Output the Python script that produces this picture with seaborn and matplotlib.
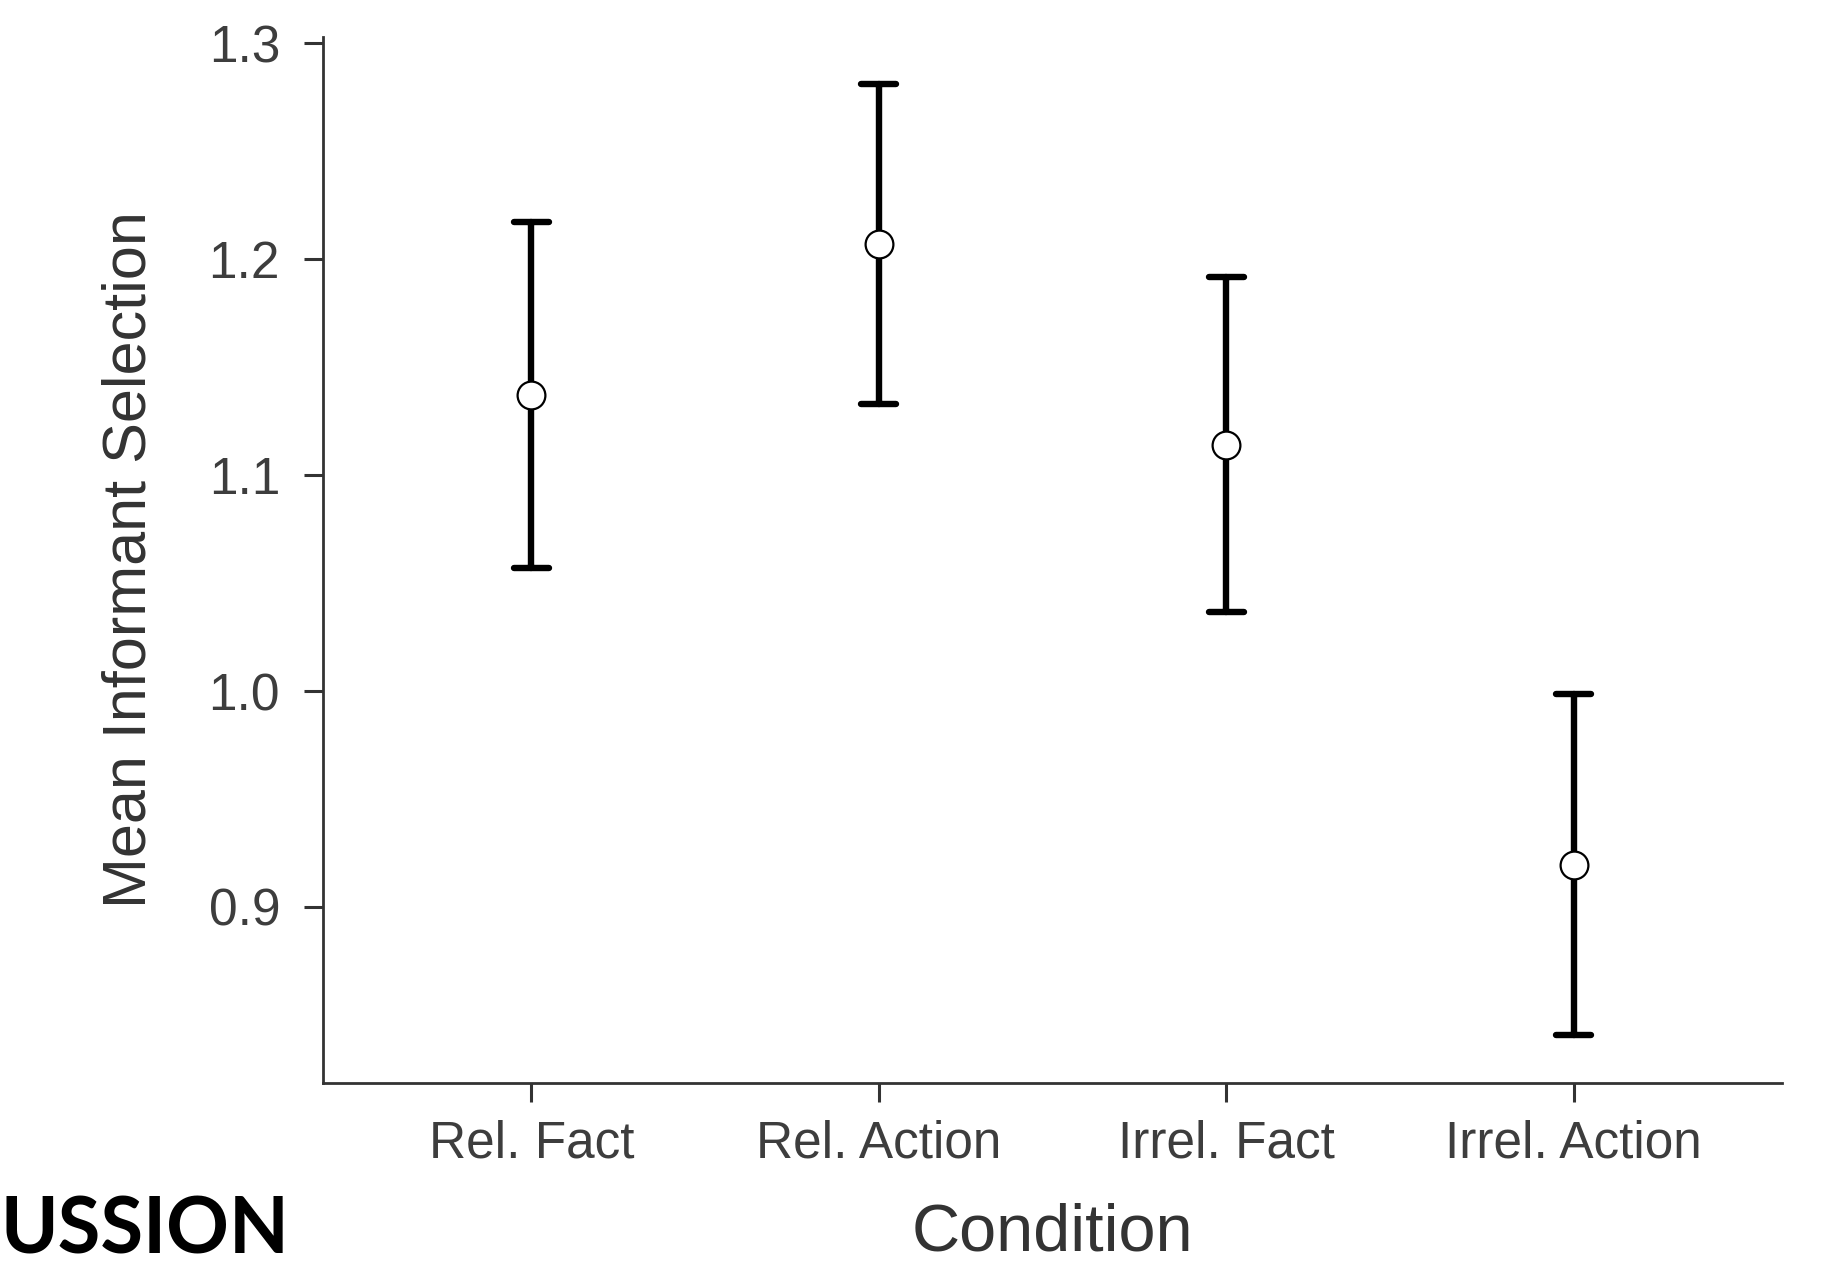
import matplotlib
matplotlib.use("Agg")
import matplotlib.pyplot as plt
import seaborn as sns
import pandas as pd

conditions = ["Rel. Fact", "Rel. Action", "Irrel. Fact", "Irrel. Action"]
means = [1.137, 1.207, 1.114, 0.9195]
ci_half = [0.080, 0.074, 0.0776, 0.0789]
yticks = [0.9, 1.0, 1.1, 1.2, 1.3]

# rows at mean - ci and mean + ci so the estimator gives the mean and the errorbar spans the CI
rows = []
for c, m, h in zip(conditions, means, ci_half):
    rows.append({"Condition": c, "value": m - h})
    rows.append({"Condition": c, "value": m + h})
df = pd.DataFrame(rows)

sns.set_style("ticks")
plt.rcParams["font.family"] = ["Liberation Sans", "DejaVu Sans"]

fig = plt.figure(figsize=(18.44, 12.68), dpi=100)
ax = fig.add_axes([0.1752, 0.1459, 0.7912, 0.8249])

sns.pointplot(
    data=df, x="Condition", y="value", order=conditions,
    estimator="mean", errorbar=lambda v: (v.min(), v.max()),
    linestyle="none", marker="o", color="black",
    markersize=20, markerfacecolor="white", markeredgecolor="black",
    markeredgewidth=1.6, capsize=0.1,
    err_kws={"linewidth": 4.6, "color": "black", "zorder": 1},
    zorder=3, ax=ax,
)

ax.set_xlim(-0.6, 3.6)
ax.set_ylim(0.8185, 1.3028)
ax.set_yticks(yticks)
ax.set_yticklabels([f"{t:.1f}" for t in yticks])

for s in ["top", "right"]:
    ax.spines[s].set_visible(False)
for s in ["left", "bottom"]:
    ax.spines[s].set_linewidth(2.0)
    ax.spines[s].set_color("#333333")

ax.tick_params(axis="both", length=14, width=2.2, color="#333333",
               labelsize=37, labelcolor="#3d3d3d")
ax.tick_params(axis="y", pad=17)
ax.tick_params(axis="x", pad=12)

ax.set_ylabel("Mean Informant Selection", fontsize=44, color="#333333")
ax.set_xlabel("Condition", fontsize=48, color="#333333")
ax.yaxis.set_label_coords(-0.113, 0.5)
ax.xaxis.set_label_coords(0.5, -0.114)

fig.text(0.0, 0.0, "USSION", fontsize=56, fontweight="bold",
         family=["Lato", "DejaVu Sans"], color="black", ha="left", va="bottom")

fig.savefig("out.png", dpi=100, facecolor="white")
